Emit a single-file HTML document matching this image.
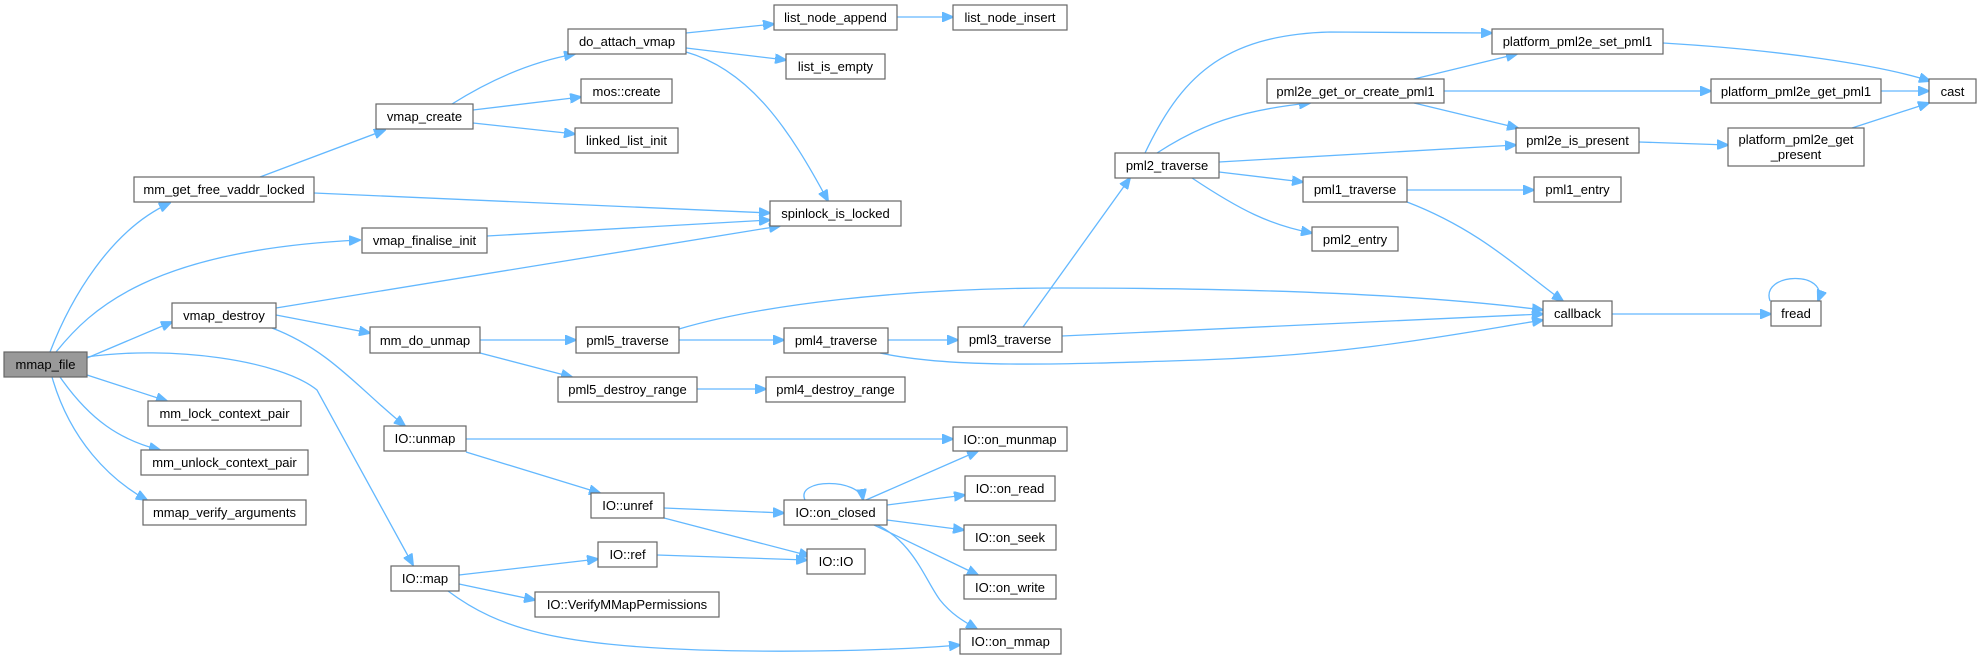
<!DOCTYPE html>
<html><head><meta charset="utf-8"><style>
html,body{margin:0;padding:0;background:#fff;}
svg{display:block;}
text{font-family:"Liberation Sans",Arial,sans-serif;font-size:13px;fill:#000;text-anchor:middle;}
.b{fill:#fff;stroke:#666;stroke-width:1.2;}
.e{fill:none;stroke:#63b8ff;stroke-width:1.3;marker-end:url(#a);}
</style></head><body>
<svg width="1980" height="659" viewBox="0 0 1980 659" xmlns="http://www.w3.org/2000/svg">
<defs><marker id="a" markerWidth="12" markerHeight="10" refX="11" refY="5" orient="auto" markerUnits="userSpaceOnUse"><path d="M0,0 L12,5 L0,10 z" fill="#63b8ff" stroke="#63b8ff"/></marker></defs>

<g>
<path class="e" d="M50,352 C70,300 110,230 170,203"/>
<path class="e" d="M56,352 C90,310 150,250 360,240"/>
<path class="e" d="M87,358 L172,322"/>
<path class="e" d="M87,357 C170,345 280,360 317,390 L413,565"/>
<path class="e" d="M87,375 L167,401"/>
<path class="e" d="M60,377 C90,420 120,440 160,450"/>
<path class="e" d="M52,377 C70,440 110,480 147,500"/>
<path class="e" d="M260,177 L385,130"/>
<path class="e" d="M314,193 L770,213"/>
<path class="e" d="M452,104 C490,80 530,62 575,54"/>
<path class="e" d="M473,110 L581,97"/>
<path class="e" d="M473,123 L575,134"/>
<path class="e" d="M686,33 L774,24"/>
<path class="e" d="M686,48 L786,60"/>
<path class="e" d="M686,52 C750,70 790,130 828,201"/>
<path class="e" d="M897,17 L953,17"/>
<path class="e" d="M487,236 L770,220"/>
<path class="e" d="M276,308 L780,226"/>
<path class="e" d="M276,315 L370,333"/>
<path class="e" d="M272,328 C330,350 360,390 405,426"/>
<path class="e" d="M480,340 L576,340"/>
<path class="e" d="M480,353 L572,377"/>
<path class="e" d="M679,329 C760,305 900,288 1060,288 C1300,288 1450,298 1543,310"/>
<path class="e" d="M679,340 L784,340"/>
<path class="e" d="M888,340 L958,340"/>
<path class="e" d="M880,353 C950,368 1050,365 1200,360 C1350,355 1450,335 1543,320"/>
<path class="e" d="M1023,327 L1130,178"/>
<path class="e" d="M1062,336 L1543,314"/>
<path class="e" d="M697,389 L766,389"/>
<path class="e" d="M1145,153 C1180,80 1220,35 1330,32 L1492,33"/>
<path class="e" d="M1157,153 C1200,125 1240,110 1310,103"/>
<path class="e" d="M1219,162 L1516,145"/>
<path class="e" d="M1219,172 L1303,182"/>
<path class="e" d="M1192,178 C1240,210 1270,225 1312,233"/>
<path class="e" d="M1414,79 L1517,54"/>
<path class="e" d="M1444,91 L1711,91"/>
<path class="e" d="M1414,103 L1518,128"/>
<path class="e" d="M1663,43 C1780,50 1880,65 1930,81"/>
<path class="e" d="M1881,91 L1929,91"/>
<path class="e" d="M1852,128 L1929,103"/>
<path class="e" d="M1639,142 L1728,145"/>
<path class="e" d="M1407,190 L1534,190"/>
<path class="e" d="M1407,202 C1480,230 1520,270 1563,301"/>
<path class="e" d="M1612,314 L1771,314"/>
<path class="e" d="M1770,301 C1760,272 1830,270 1818,301"/>
<path class="e" d="M466,439 L953,439"/>
<path class="e" d="M466,452 L600,493"/>
<path class="e" d="M664,508 L784,513"/>
<path class="e" d="M664,518 L810,556"/>
<path class="e" d="M805,500 C795,478 860,478 863,500"/>
<path class="e" d="M866,500 L978,451"/>
<path class="e" d="M887,505 L965,495"/>
<path class="e" d="M887,520 L964,530"/>
<path class="e" d="M874,525 L978,575"/>
<path class="e" d="M873,523 C913,540 925,580 940,600 C952,615 965,622 977,629"/>
<path class="e" d="M657,555 L807,560"/>
<path class="e" d="M459,575 L598,559"/>
<path class="e" d="M459,584 L535,600"/>
<path class="e" d="M448,591 C500,630 560,645 700,650 C800,653 900,650 960,645"/>
</g>

<g>
<rect x="4" y="352" width="83" height="25" fill="#999" stroke="#666" stroke-width="1.2"/><text x="45.5" y="369">mmap_file</text>
<rect class="b" x="134" y="177" width="180" height="25"/><text x="224" y="194">mm_get_free_vaddr_locked</text>
<rect class="b" x="376" y="104" width="97" height="25"/><text x="424.5" y="121">vmap_create</text>
<rect class="b" x="568" y="29" width="118" height="25"/><text x="627" y="46">do_attach_vmap</text>
<rect class="b" x="581" y="79" width="91" height="24"/><text x="626.5" y="96">mos::create</text>
<rect class="b" x="575" y="128" width="103" height="25"/><text x="626.5" y="145">linked_list_init</text>
<rect class="b" x="774" y="5" width="123" height="25"/><text x="835.5" y="22">list_node_append</text>
<rect class="b" x="953" y="5" width="114" height="25"/><text x="1010" y="22">list_node_insert</text>
<rect class="b" x="786" y="54" width="99" height="25"/><text x="835.5" y="71">list_is_empty</text>
<rect class="b" x="770" y="201" width="131" height="25"/><text x="835.5" y="218">spinlock_is_locked</text>
<rect class="b" x="362" y="228" width="125" height="25"/><text x="424.5" y="245">vmap_finalise_init</text>
<rect class="b" x="172" y="303" width="104" height="25"/><text x="224" y="320">vmap_destroy</text>
<rect class="b" x="370" y="327" width="110" height="26"/><text x="425" y="345">mm_do_unmap</text>
<rect class="b" x="576" y="327" width="103" height="26"/><text x="627.5" y="345">pml5_traverse</text>
<rect class="b" x="784" y="328" width="104" height="25"/><text x="836" y="345">pml4_traverse</text>
<rect class="b" x="958" y="327" width="104" height="25"/><text x="1010" y="344">pml3_traverse</text>
<rect class="b" x="558" y="377" width="139" height="25"/><text x="627.5" y="394">pml5_destroy_range</text>
<rect class="b" x="766" y="377" width="139" height="25"/><text x="835.5" y="394">pml4_destroy_range</text>
<rect class="b" x="148" y="401" width="153" height="25"/><text x="224.5" y="418">mm_lock_context_pair</text>
<rect class="b" x="141" y="450" width="167" height="25"/><text x="224.5" y="467">mm_unlock_context_pair</text>
<rect class="b" x="143" y="500" width="163" height="25"/><text x="224.5" y="517">mmap_verify_arguments</text>
<rect class="b" x="384" y="426" width="82" height="25"/><text x="425" y="443">IO::unmap</text>
<rect class="b" x="591" y="493" width="73" height="25"/><text x="627.5" y="510">IO::unref</text>
<rect class="b" x="784" y="500" width="103" height="25"/><text x="835.5" y="517">IO::on_closed</text>
<rect class="b" x="807" y="549" width="58" height="25"/><text x="836" y="566">IO::IO</text>
<rect class="b" x="598" y="542" width="59" height="25"/><text x="627.5" y="559">IO::ref</text>
<rect class="b" x="391" y="566" width="68" height="25"/><text x="425" y="583">IO::map</text>
<rect class="b" x="535" y="592" width="184" height="25"/><text x="627" y="609">IO::VerifyMMapPermissions</text>
<rect class="b" x="953" y="427" width="114" height="24"/><text x="1010" y="444">IO::on_munmap</text>
<rect class="b" x="965" y="476" width="90" height="25"/><text x="1010" y="493">IO::on_read</text>
<rect class="b" x="964" y="525" width="92" height="25"/><text x="1010" y="542">IO::on_seek</text>
<rect class="b" x="964" y="575" width="92" height="24"/><text x="1010" y="592">IO::on_write</text>
<rect class="b" x="960" y="629" width="101" height="25"/><text x="1010.5" y="646">IO::on_mmap</text>
<rect class="b" x="1115" y="153" width="104" height="25"/><text x="1167" y="170">pml2_traverse</text>
<rect class="b" x="1267" y="79" width="177" height="24"/><text x="1355.5" y="96">pml2e_get_or_create_pml1</text>
<rect class="b" x="1492" y="29" width="171" height="25"/><text x="1577.5" y="46">platform_pml2e_set_pml1</text>
<rect class="b" x="1711" y="79" width="170" height="24"/><text x="1796" y="96">platform_pml2e_get_pml1</text>
<rect class="b" x="1929" y="79" width="47" height="24"/><text x="1952.5" y="96">cast</text>
<rect class="b" x="1516" y="128" width="123" height="25"/><text x="1577.5" y="145">pml2e_is_present</text>
<rect class="b" x="1728" y="128" width="136" height="38"/><text x="1796" y="144">platform_pml2e_get</text><text x="1796" y="159">_present</text>
<rect class="b" x="1303" y="177" width="104" height="25"/><text x="1355" y="194">pml1_traverse</text>
<rect class="b" x="1534" y="177" width="87" height="25"/><text x="1577.5" y="194">pml1_entry</text>
<rect class="b" x="1312" y="227" width="86" height="24"/><text x="1355" y="244">pml2_entry</text>
<rect class="b" x="1543" y="301" width="69" height="25"/><text x="1577.5" y="318">callback</text>
<rect class="b" x="1771" y="301" width="50" height="25"/><text x="1796" y="318">fread</text>
</g>
</svg>
</body></html>
